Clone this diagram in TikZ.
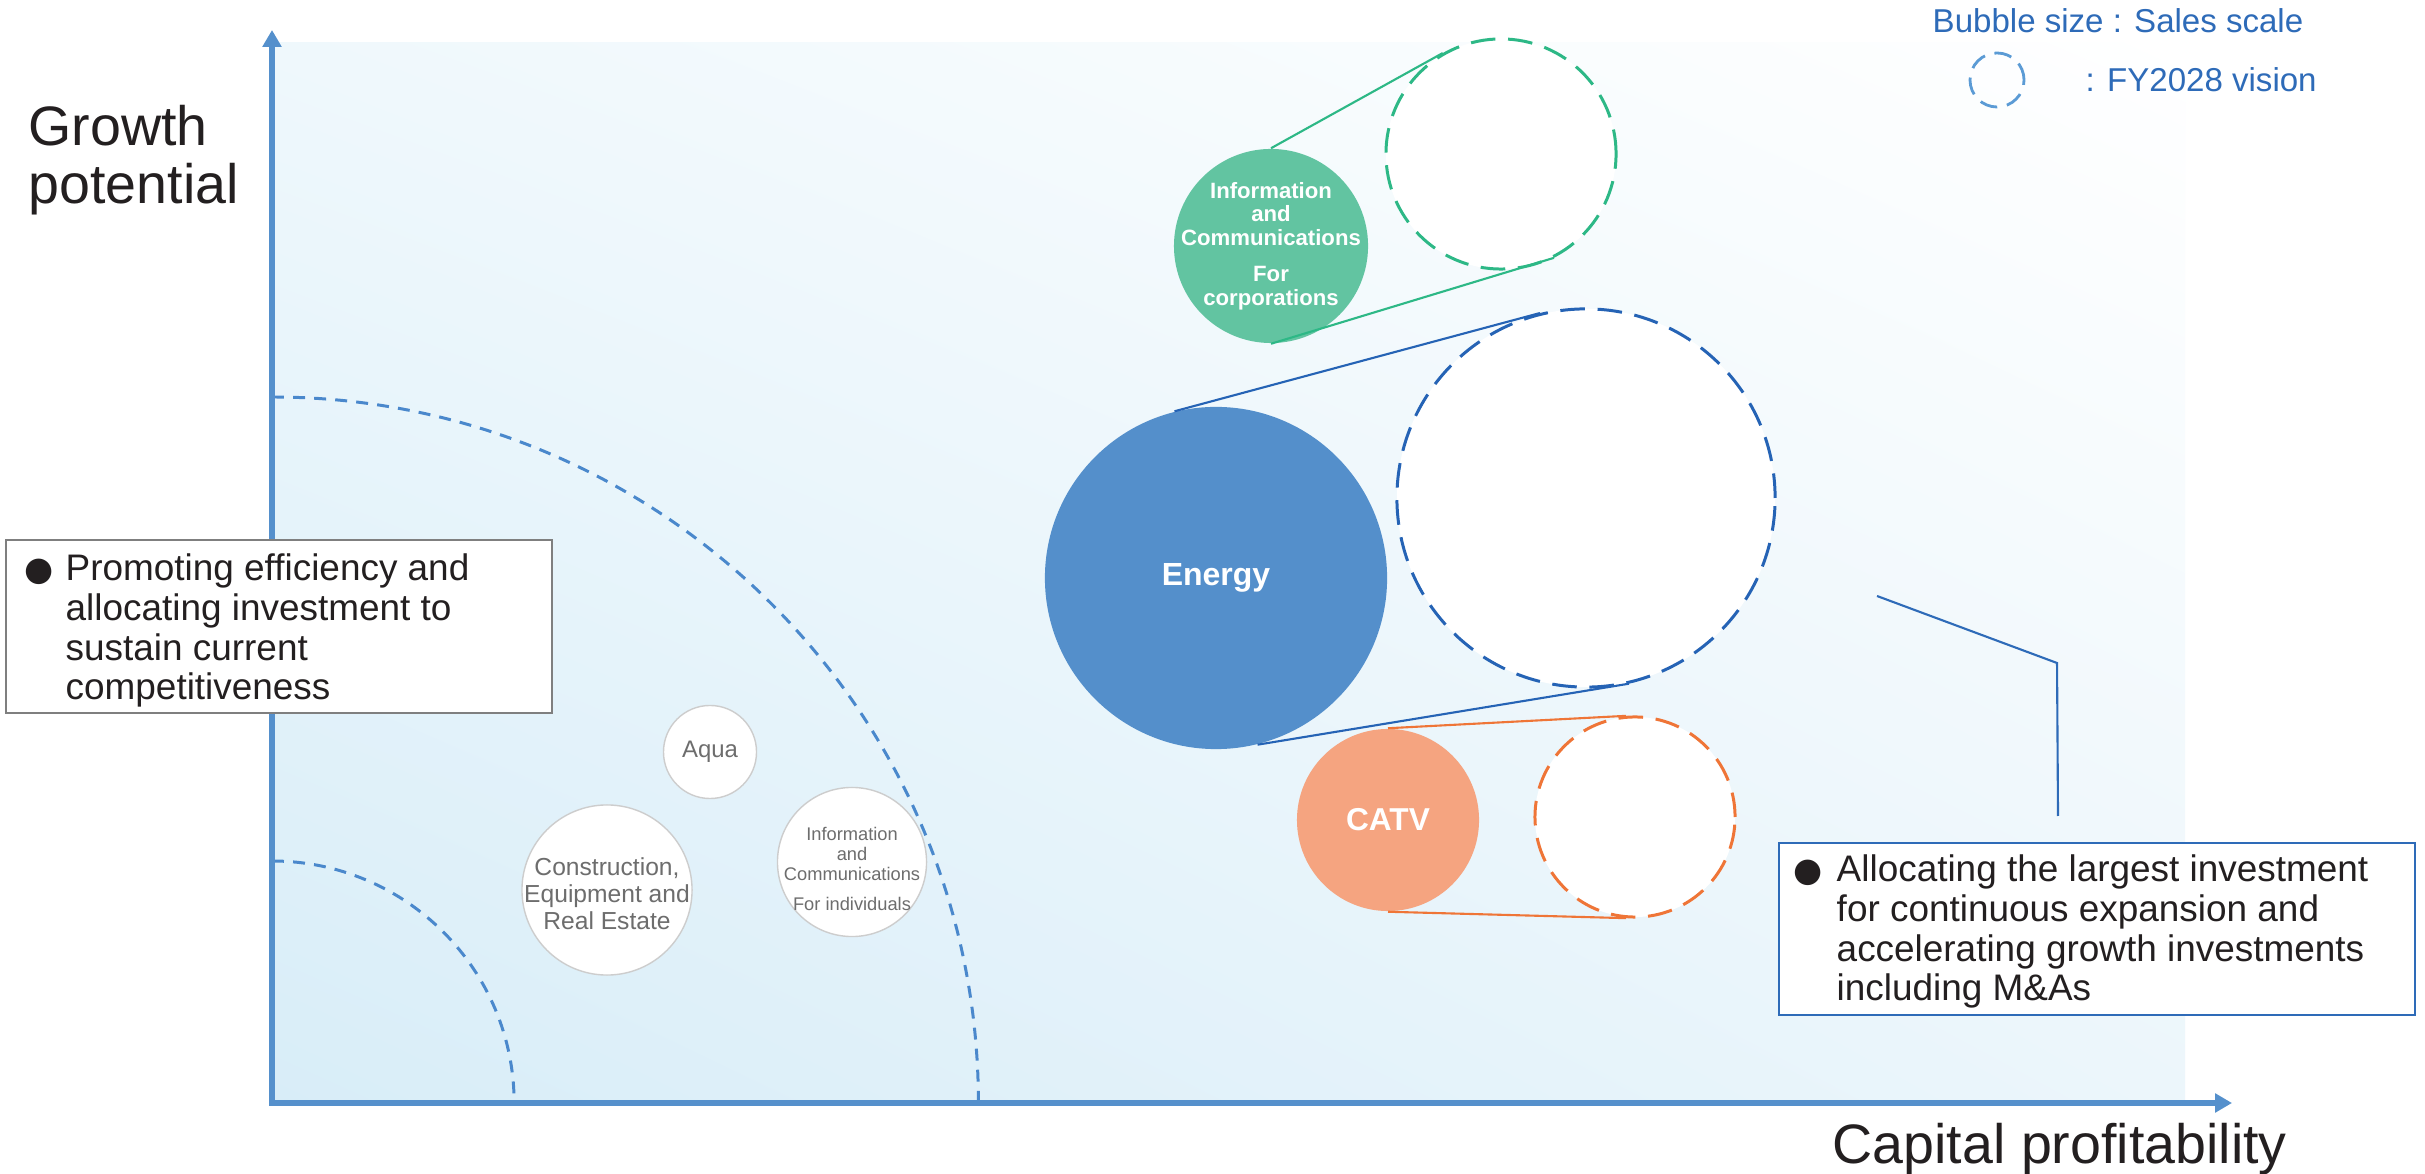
\documentclass[tikz,border=0pt]{standalone}
\usepackage{fontspec}
\setmainfont{Liberation Sans}
\newfontfamily\dejavu{DejaVu Sans}
\usetikzlibrary{arrows.meta,shadings}
\definecolor{axisblue}{RGB}{85,144,204}
\definecolor{arcblue}{RGB}{74,136,204}
\definecolor{greenfill}{RGB}{98,196,161}
\definecolor{greenline}{RGB}{45,184,134}
\definecolor{energyfill}{RGB}{84,143,203}
\definecolor{energyline}{RGB}{37,99,181}
\definecolor{orangefill}{RGB}{245,164,128}
\definecolor{orangeline}{RGB}{239,117,55}
\definecolor{darktext}{RGB}{35,31,32}
\definecolor{graystroke}{RGB}{205,205,205}
\definecolor{graytext}{RGB}{109,109,109}
\definecolor{legblue}{RGB}{46,107,184}
\definecolor{legcircle}{RGB}{91,155,213}
\definecolor{boxgray}{RGB}{127,127,127}
\definecolor{bgLL}{RGB}{216,237,248}
\definecolor{bgUL}{RGB}{239,248,252}
\definecolor{bgLR}{RGB}{236,246,251}
\definecolor{bgUR}{RGB}{255,255,255}
\begin{document}
\begin{tikzpicture}[x=0.01cm,y=-0.01cm,
  axisline/.style={draw=axisblue,line width=1.7pt,{Triangle[length=4.8pt,width=5.2pt]}-{Triangle[length=4.8pt,width=5.2pt]}},
  arcdash/.style={draw=arcblue,line width=0.85pt,dash pattern=on 3.4pt off 2.6pt},
  solidbubble/.style={circle,inner sep=0pt},
  bubblelabel/.style={inner sep=0pt,align=center},
  dashbubble/.style={circle,inner sep=0pt,fill=white,line width=0.85pt,dash pattern=on 7pt off 3.6pt},
  graybubble/.style={circle,inner sep=0pt,fill=white,draw=graystroke,line width=0.4pt},
  graylabel/.style={inner sep=0pt,align=center,text=graytext},
  link/.style={line width=0.6pt},
  boxtext/.style={inner sep=0pt,align=left,text=darktext,font=\fontsize{10.5}{11.3}\selectfont},
  bulletmark/.style={inner sep=0pt,text=darktext,font=\dejavu\fontsize{9.5}{9.5}\selectfont},
  axislabel/.style={inner sep=0pt,align=left,text=darktext,font=\fontsize{15.8}{16.5}\selectfont},
  legendtext/.style={inner sep=0pt,text=legblue,font=\fontsize{9.4}{10}\selectfont}]
\useasboundingbox (0,0) rectangle (2425,1174);
\fill[white] (0,0) rectangle (2425,1174);
% background gradient
\shade[lower left=bgLL,upper left=bgUL,lower right=bgLR,upper right=bgUR] (272,43) rectangle (2185,1103);
% quarter arcs
\draw[arcdash] (272,861) arc[start angle=90,end angle=0,radius=2.42cm];
\draw[arcdash] (272,397) arc[start angle=90,end angle=0,radius=7.06cm];
% axes
\coordinate (O) at (272,1103);
\coordinate (ytip) at (272,30);
\coordinate (xtip) at (2232,1103);
\draw[axisline] (ytip) -- (O) -- (xtip);
\node[axislabel,anchor=base west] (ylab) at (28,204) {Growth\\potential};
\node[axislabel,anchor=base west] (xlab) at (1832,1163) {Capital profitability};
% gray bubbles
\node[graybubble,minimum size=0.93cm] (aqua) at (710,752) {};
\node[graylabel,font=\fontsize{6.8}{7.5}\selectfont] (aqual) at (aqua.center) {Aqua};
\node[graybubble,minimum size=1.70cm] (cons) at (607,890) {};
\node[graylabel,font=\fontsize{7}{7.7}\selectfont] (consl) at ([yshift=-1pt]cons.center) {Construction,\\Equipment and\\Real Estate};
\node[graybubble,minimum size=1.49cm] (indiv) at (852,862) {};
\node[graylabel,font=\fontsize{5.2}{5.7}\selectfont] (indivl) at ([yshift=-2pt]indiv.center) {Information\\and\\Communications\\[2.8pt]For individuals};
% green
\node[solidbubble,fill=greenfill,minimum size=1.94cm] (gs) at (1271,246) {};
\node[bubblelabel,text=white,font=\bfseries\fontsize{6.3}{6.7}\selectfont] (gsl) at (gs.center) {Information\\and\\Communications\\[3.6pt]For\\corporations};
\node[dashbubble,draw=greenline,minimum size=2.30cm] (gd) at (1501,154) {};
\draw[link,greenline] (gs.north) -- (gd.120);
\draw[link,greenline] (gs.south) -- (gd.-63);
% energy
\node[solidbubble,fill=energyfill,minimum size=3.42cm] (es) at (1216,578) {};
\node[bubblelabel,text=white,font=\bfseries\fontsize{9.1}{10}\selectfont] (esl) at (es.center) {Energy};
\node[dashbubble,draw=energyline,minimum size=3.78cm] (ed) at (1586,498) {};
\draw[link,energyline] (es.104) -- (ed.104);
\draw[link,energyline] (es.-76) -- (ed.-77.5);
% CATV
\node[solidbubble,fill=orangefill,minimum size=1.82cm] (cs) at (1388,820) {};
\node[bubblelabel,text=white,font=\bfseries\fontsize{9}{10}\selectfont] (csl) at (cs.center) {CATV};
\node[dashbubble,draw=orangeline,minimum size=2.0cm] (cd) at (1635,817) {};
\draw[link,orangeline] (cs.north) -- (cd.95);
\draw[link,orangeline] (cs.south) -- (cd.265);
% left box
\node[draw=boxgray,fill=white,line width=0.55pt,minimum width=5.46cm,minimum height=1.73cm,inner sep=0pt] (lb) at (279,626.5) {};
\node[bulletmark] (lbul) at (39,572) {●};
\node[boxtext,anchor=base west] (lt) at (65,700) {Promoting efficiency and\\allocating investment to\\sustain current\\competitiveness};
% right box
\node[draw=legblue,fill=white,line width=0.6pt,minimum width=6.36cm,minimum height=1.72cm,inner sep=0pt] (rb) at (2097,929) {};
\node[bulletmark] (rbul) at (1808,873) {●};
\node[boxtext,anchor=base west] (rt) at (1836,1001) {Allocating the largest investment\\for continuous expansion and\\accelerating growth investments\\including M\&As};
% callout connector
\coordinate (c1) at (1877,596);
\coordinate (c2) at (2057,663);
\coordinate (c3) at (2058,816);
\draw[link,legblue] (c1) -- (c2) -- (c3);
% legend
\node[legendtext,anchor=base west] (lg1) at (1932,33) {Bubble size : Sales scale};
\node[circle,inner sep=0pt,minimum size=0.54cm,draw=legcircle,line width=0.8pt,dash pattern=on 5pt off 2.8pt] (lgc) at (1997,80) {};
\node[legendtext,anchor=base west] (lg2) at (2085,92) {: FY2028 vision};
\end{tikzpicture}
\end{document}
